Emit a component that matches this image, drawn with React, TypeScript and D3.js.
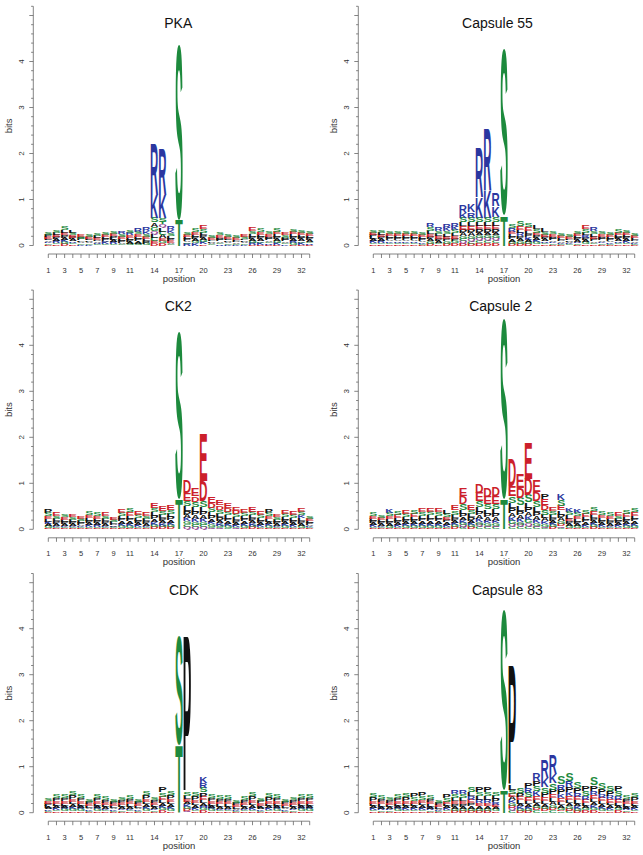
import React, { useMemo } from "react";
import * as d3 from "d3";

// ---------- DATA ----------
// Each string = one position's letter stack, listed top -> bottom, heights in 0.01 bits.
const panelTitles = ["PKA", "Capsule 55", "CK2", "Capsule 2", "CDK", "Capsule 83"];
const xTickLabels = [1, 3, 5, 7, 9, 11, 14, 17, 20, 23, 26, 29, 32];
const yTickLabels = [0, 1, 2, 3, 4];
const yMinorTicks = [0, 0.2, 0.4, 0.6, 0.8, 1, 1.2, 1.4, 1.6, 1.8, 2, 2.2, 2.4, 2.6, 2.8, 3, 3.2, 3.4, 3.6, 3.8, 4, 4.2, 4.4, 4.6, 4.8, 5, 5.2];

const pkaStacks = [
  "S5P4E4L4A3K3G3D2", "S6L5E4P4A4R4G3D3", "S8L6E5P5A4K5G4D4", "L6S5E5P4A4R3G3D3",
  "E5S4P4L3A3G3K2", "S4E4L4P3A3G3K2", "S5L4E4P3A3R3G3", "S5E5L4P4A3K4G3",
  "S6E5P5L4A4R4G3", "R5S5E5L4P4A3G3", "S6R5E5L5P4A4G4", "R7S6E5L5P5A5G4",
  "R7K6S6E5L5P5G4", "R110K50S10A9G9Q8L7C7E5D5", "R100K50S8T6Q8L8C7A7E6G5D5", "R7K6S6L6P5E4A3G3",
  "S380T55", "S5E5L4P4A3G3R4", "S7E6L5P5A4G4K5", "E8S7L6P6A5G4K4D3",
  "S4E4L3P3A3G3", "S6E5L4P4A3G3R3", "S4E4L4P3A3G3K2", "S4E4L3P3A3G2K2",
  "E4S4L3P3A3G3K2", "E7S6L6P5A4G4R4D2", "S7E6L5P5A4G3K4D2", "S5E5L4P4A3G3R3D2",
  "S8E6L5P5A4G4K4D2", "E5S5L4P4A3G3K3", "S6E6L5P5A4R4G4D2", "S6E5L5P4A4G3K4D2",
  "S5E5L4P4A4G3R3D2",
];

const capsule55Stacks = [
  "S6E5P5L4A4K4G3D3", "S6L5E5P4A4R4G3D3", "S5E5L4P4A3K3G3D3", "S6E5L4P4A3R3G3D3",
  "S5E5L4P4A3K3G3D3", "S5E4L4P4A3R3G3D3", "S5E4L4P4A3K3G2D2", "R9S8L7E6P5A5G5D4",
  "R7S6L6E5P5A4G3D3", "R9K7S6L6E5P5G5D4", "R9K7S7L6E6P5G5D5", "R15K10S10L8E8P7A7G6C5Q5D4",
  "K17R12S10L8E8P7A7G6Q5C5D4", "R105K45S10L8E7P7A6G6Q5C6D5", "R133K60S10L8E7P7A6G6Q5C6D5", "R27K23S12L8E7P7A6G6Q5C6D5",
  "S362T65", "S9R7E6L6P5A5G4D4", "S10E8L7R7P6A5G5D4", "S9E8L7P6K6A5G4D4",
  "L8S8E6P6A5K4G4D3", "L7S6E5P5A4R3G3D3", "S5E5L4P4A3K3G3D2", "S5E4L4P3A3K2G2D2",
  "S4E4L3P3A3K2G2D1", "S6E5L5P4A4R3G3D2", "E8S7L6R6P5A4G4D3", "R7S6L6E5P5A3G3D3",
  "S6E5L4P4A3K3G3D2", "S5E5L4P4A3K3G2D2", "S7E5L5P4A4R3G3D3", "S6E5L5P4A4K4G3D3",
  "S5E4L4P3A3K2G2D2",
];

const ck2Stacks = [
  "P8S7E6L6K5A4G4D3", "E7S6L5P5A4K3G3D2", "S6E6L5P4A4K3G3D2", "E6S6L5P4A4K3G3D2",
  "E6S5L4P4A3K3G2D2", "S7E6L5P5A4K4G3D3", "S7E6L5P5A4R4G3D2", "E7S6L5P5A4K3G3D2",
  "E5S4L4P3A3K2G2D2", "E8S7L6P5A5K5G4D3", "S9E8L6P6A5K5G4D3", "E7S7L5P5A4K4G3D3",
  "E7S6L5P5A4K3G3D2", "E12S9L8P7A6K6G5D5", "E10S8L7P6A5K5G4D4", "E11S9L7P7A6K5G5D4",
  "S363T65", "D28E16S12L10P8A7K7G6C6Q6", "E17D12S12L10P8A7K7G6C5Q5", "E102D43S14L10P8A7K7G6C5Q5",
  "E14D10S10L8P7A6K5G5C3Q3", "E12D9S9L8P7A6K5G4C2Q2", "E11D8S8L7P6A5K5G4C3", "E9D7S7L6P6A5K4G3Q2",
  "E8S7L6P5A5K5G4D3", "E10S8L6P6A5K5G4D4", "E7S7L5P5A4K4G3D3", "P8S7E6L6A5K4G4D3",
  "E6S6L5P4A4K3G3D2", "E8S7L6P5A5K4G4D3", "E7S7L5P5A4K4G3D3", "E9S8K6L6P6A5G4D3",
  "S5E5L4P4A3K3G2D2",
];

const capsule2Stacks = [
  "S7E6L5P5A4K4G3D2", "S6E5L4P4A4K3G3D2", "K8S7E6L6P5A4G4D3", "S7E7L5P5A4K4G3D3",
  "E8S7L6P5A5K4G4D3", "S8E7L6P5A5K4G4D3", "E9S8L6P6A5K5G4D3", "E9S8L7P6A5K5G4D3",
  "E9S8L6P6A5K5G4D3", "L8S7E6P6A5K4G3D3", "E10S9L7P6A5K5G5D4", "E15D17S13L9P7A6K6G5Q5C4",
  "E10S9L8P7A5K5G5D4", "D19E18S14L10P8A7K7G6Q5C5", "D18E16S12L9P8A7K6G5Q4C4", "D18E16S12L10P8A7K6G5Q4C4",
  "S393T64", "D59E22S15L12P10A9K8G7Q6C6", "E30D22S16L12P9A8K7G6Q5C5", "E78D35S16L12P10A9K8G7Q7C6",
  "E24D20S14L10P9A8K7G6Q4C4", "P12E14D10S10L8A7K6G5Q3C3", "E9S8L7P6A5K5G5D4", "K14S13E10L9P8A7G6D4Q4C3",
  "K9S8L7E6P5A5G4D3", "K8S7E6L6P5A4G4D3", "S8E7L6P5A5K4G3D3", "S9E8L7P6A5K5G5D4",
  "S7E6L6P5A4K4G3D3", "S7E6L5P5A4K3G3D2", "E7S6L5P5A4K4G3D2", "S8E7L6P5A5K4G4D3",
  "S9E8L6P6A5K5G4D3",
];

const cdkStacks = [
  "S6E5P5L4A4K3G2D2", "S7P6E6L5A4K4G3D3", "S7P6E5L5A4K4G4D3", "S9P8E6L6A5K5G5D3",
  "S7P6E5L5A4K4G4D3", "S6P5E4L4A3K3G2D2", "S8P6E6L5A4K4G4D3", "S7P6E5L4A4K3G3D3",
  "S6P5E4L4A3K3G2D2", "S6P6E5L4A4K3G3D2", "S7P6E5L5A4K3G3D3", "S6P5E4L4A3K3G2D2",
  "S9P8E6L6A5K5G5D3", "S6P6E5L4A4K3G3D2", "P11S9E7L7A6K5G5D5", "S9P8E6L6A5K5G5D3",
  "S238T147", "P340S8L7E6A6K6G5D4Q3", "S8P8E6L6A5K5G3D3", "K13R10S10P9E7L7A6H5G5D5",
  "S7P6E5L5A4K4G4D3", "S7P6E5L5A4K3G3D3", "S7P6E5L5A4K3G3D3", "S6P5E4L4A3K2G2D2",
  "S7P6E5L4A4K3G3D3", "S8P8E6L6A5K5G3D3", "S6P5E5L4A4K3G2D2", "S8P7E6L5A5K4G3D3",
  "S7P6E5L5A4K4G4D3", "S6P5E4L4A3K3G2D2", "S6P6E5L4A4K3G3D2", "S7P6E5L5A4K4G4D3",
  "S7P6E5L5A4K4G4D3",
];

const capsule83Stacks = [
  "S8P7E6L5A5K4G3D3", "S7P6E5L5A4K4G3D2", "S6P6E5L4A4K3G3D2", "S7P6E5L5A4K4G4D3",
  "S8P7E6L5A5K4G3D3", "P8S7E6L5A5K4G3D3", "P8S8E6L6A5K5G3D3", "S7P6E5L5A4K4G3D2",
  "S6P5E4L4A3K2G2D2", "P7S7E5L5A4K4G3D3", "R9S8L7E6P6A5G4D4", "R9S8L7E6P6A5G4D4",
  "S10L9R8E7P6A6G5D4", "P10S9L8R7E6A6G5D4", "P10S9L8R7E6A6G5D4", "S9L7P7R6E5A5G4D3",
  "S393T48", "P259L10S9E7A7K6G6D5Q5C5", "S10P9E7L7A6K6G4D4", "P12R10S10E7L7A6K5G4D4",
  "R16P12S12K10E8L7A6G5D5C5", "R40K20S12P10E8L7A6G5D4C3", "R41K20S15P10E9L8A7G6D5C5", "S16R12P10K9E7L7A6G5D3C3",
  "S18R13P10K9E8L7A6G6D5C4", "S14P11R9E7L7A6K5G5D4", "P11S10R8E7L6A5G5D5", "S16P12R9E8L7A6K6G6D5",
  "S13P11R8E7L7A6K5G4D3", "S12P11R8E7L6A6K4G3D3", "P11S10R8E7L6A5G5D5", "S7P6E5L5A4K4G3D2",
  "S8P7E6L5A5K4G3D3",
];

const panelStacks = [pkaStacks, capsule55Stacks, ck2Stacks, capsule2Stacks, cdkStacks, capsule83Stacks];

// ---------- STYLE / LAYOUT ----------
const W = 643;
const H = 855;
const rowBase = [245.5, 529.3, 812.7];
const colOffset = [0, 325];
const titleCenters = [178.3, 497.5, 178.3, 500.7, 183.7, 507.3];
const BIT_PX = 46;
const LETTER_W = 7.4;
const FONT = "'Liberation Sans', Arial, Helvetica, sans-serif";

const colorOf = (ch: string) => {
  if ("GSTYC".includes(ch)) return "#1d8a3d";
  if ("NQ".includes(ch)) return "#8e3b8e";
  if ("KRH".includes(ch)) return "#2b37a0";
  if ("DE".includes(ch)) return "#cc1f2b";
  return "#111111";
};

type Metric = { left: number; right: number; asc: number; desc: number };

function useLetterMetrics(): Record<string, Metric> {
  return useMemo(() => {
    const res: Record<string, Metric> = {};
    const letters = "ACDEFGHIKLMNPQRSTVWY";
    let ctx: CanvasRenderingContext2D | null = null;
    try {
      const c = document.createElement("canvas");
      ctx = c.getContext("2d");
    } catch (e) {
      ctx = null;
    }
    for (const ch of letters) {
      let m: Metric = { left: -4, right: 68, asc: 71.6, desc: 0 };
      if (ctx) {
        ctx.font = `bold 100px ${FONT}`;
        const t = ctx.measureText(ch);
        if (t.actualBoundingBoxAscent && t.actualBoundingBoxRight) {
          m = {
            left: t.actualBoundingBoxLeft,
            right: t.actualBoundingBoxRight,
            asc: t.actualBoundingBoxAscent,
            desc: t.actualBoundingBoxDescent,
          };
        }
      }
      res[ch] = m;
    }
    return res;
  }, []);
}

function parseStack(s: string) {
  const out: { ch: string; h: number }[] = [];
  const re = /([A-Z])(\d+)/g;
  let m: RegExpExecArray | null;
  while ((m = re.exec(s))) out.push({ ch: m[1], h: +m[2] / 100 });
  return out.reverse(); // bottom -> top
}

function Panel({ idx, metrics }: { idx: number; metrics: Record<string, Metric> }) {
  const row = Math.floor(idx / 2);
  const col = idx % 2;
  const ox = colOffset[col];
  const base = rowBase[row];
  const x = d3.scaleLinear().domain([1, 33]).range([48.3 + ox, 309.7 + ox]);
  const y = d3.scaleLinear().domain([0, 5.2]).range([base, base - 5.2 * BIT_PX]);
  const axisX = 33.3 + ox;
  const stacks = panelStacks[idx];
  const xAxisY = base + 8.5;

  const letters: React.ReactNode[] = [];
  stacks.forEach((s, i) => {
    const pos = i + 1;
    let cum = 0;
    parseStack(s).forEach((l, j) => {
      const y0 = y(cum);
      const y1 = y(cum + l.h);
      cum += l.h;
      const hpx = y0 - y1;
      if (hpx <= 0.05) return;
      const m = metrics[l.ch];
      const sx = LETTER_W / (m.left + m.right);
      const sy = hpx / (m.asc + m.desc);
      const x0 = x(pos) - LETTER_W / 2;
      letters.push(
        <text
          key={`${i}-${j}`}
          transform={`translate(${x0},${y1}) scale(${sx},${sy}) translate(${m.left},${m.asc})`}
          fontSize={100}
          fontWeight="bold"
          fontFamily={FONT}
          fill={colorOf(l.ch)}
        >
          {l.ch}
        </text>
      );
    });
  });

  return (
    <g>
      <text
        x={titleCenters[idx]}
        y={base - 223 + 5}
        textAnchor="middle"
        fontFamily={FONT}
        fontSize={14}
        fill="#111"
      >
        {panelTitles[idx]}
      </text>
      {/* y axis */}
      <line x1={axisX} x2={axisX} y1={y(0)} y2={y(5.2)} stroke="#666" strokeWidth={0.8} />
      {yMinorTicks.map((v) => (
        <line
          key={v}
          x1={axisX}
          x2={axisX - (Math.abs(v - Math.round(v)) < 1e-6 ? 4 : 2.2)}
          y1={y(v)}
          y2={y(v)}
          stroke="#666"
          strokeWidth={0.8}
        />
      ))}
      {yTickLabels.map((v) => (
        <text
          key={v}
          transform={`translate(${axisX - 12},${y(v)}) rotate(-90)`}
          textAnchor="middle"
          dominantBaseline="central"
          fontFamily={FONT}
          fontSize={8}
          fill="#333"
        >
          {v}
        </text>
      ))}
      <text
        transform={`translate(${axisX - 25},${y(2.6)}) rotate(-90)`}
        textAnchor="middle"
        dominantBaseline="central"
        fontFamily={FONT}
        fontSize={9.5}
        fill="#333"
      >
        bits
      </text>
      {/* x axis */}
      <line x1={x(1)} x2={x(33)} y1={xAxisY} y2={xAxisY} stroke="#666" strokeWidth={0.8} />
      {d3.range(1, 34).map((p) => (
        <line key={p} x1={x(p)} x2={x(p)} y1={xAxisY} y2={xAxisY + 4} stroke="#666" strokeWidth={0.8} />
      ))}
      {xTickLabels.map((p) => (
        <text key={p} x={x(p)} y={base + 27} textAnchor="middle" fontFamily={FONT} fontSize={7.5} fill="#333">
          {p}
        </text>
      ))}
      <text x={(x(1) + x(33)) / 2} y={base + 36} textAnchor="middle" fontFamily={FONT} fontSize={9.5} fill="#333">
        position
      </text>
      {letters}
    </g>
  );
}

export default function App() {
  const metrics = useLetterMetrics();
  return (
    <svg
      width={W}
      height={H}
      viewBox={`0 0 ${W} ${H}`}
      style={{ position: "absolute", left: 0, top: 0, background: "#fff" }}
    >
      <rect x={0} y={0} width={W} height={H} fill="#fff" />
      {panelTitles.map((_, i) => (
        <Panel key={i} idx={i} metrics={metrics} />
      ))}
    </svg>
  );
}
